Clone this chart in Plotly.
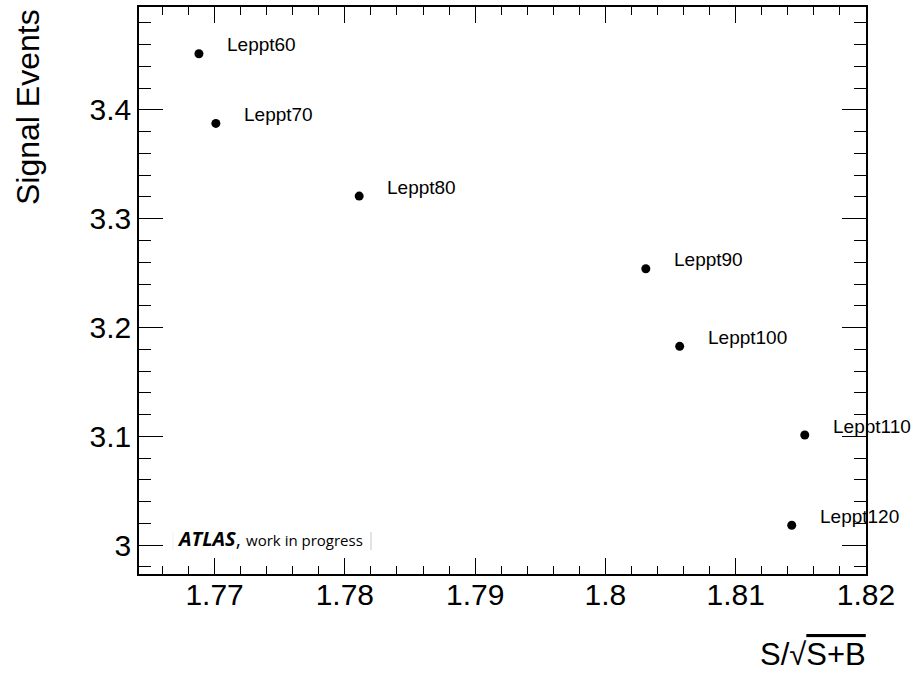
import plotly.graph_objects as go

labels = ["Leppt60", "Leppt70", "Leppt80", "Leppt90", "Leppt100", "Leppt110", "Leppt120"]
significance = [1.7688, 1.7701, 1.7811, 1.8031, 1.8057, 1.8153, 1.8143]
signal_events = [3.4516, 3.3876, 3.3208, 3.2540, 3.1827, 3.1012, 3.0183]

fig = go.Figure()
fig.add_trace(go.Scatter(
    x=significance, y=signal_events, mode="markers",
    marker=dict(color="black", size=9), showlegend=False, hoverinfo="skip"))

for lx, ly, t in zip(significance, signal_events, labels):
    fig.add_annotation(x=lx, y=ly, text=t, showarrow=False, xanchor="left", yanchor="middle",
                       xshift=26, yshift=9, font=dict(family="Liberation Sans", size=19, color="black"))

fig.add_annotation(xref="paper", yref="paper", x=(28 - 139) / 727, y=1.0, xanchor="center", yanchor="top",
                   text="Signal Events", textangle=-90, showarrow=False,
                   font=dict(family="Liberation Sans", size=32, color="black"))

fig.add_annotation(xref="paper", yref="paper", x=1.003, y=-(655 - 574) / 569, xanchor="right", yanchor="middle",
                   text="S/√<span style='text-decoration:overline'>S+B</span>", showarrow=False,
                   font=dict(family="Liberation Sans", size=31, color="black"))

fig.add_annotation(xref="paper", yref="paper", x=(175 - 139) / 727, y=(574 - 538) / 569, xanchor="left", yanchor="middle",
                   text="<b><i>ATLAS</i></b>, <span style='font-size:15px'>work in progress</span>", showarrow=False,
                   font=dict(family="Open Sans", size=20, color="black"))

# faint edges of the pasted label box
fig.add_shape(type="line", xref="paper", yref="paper", x0=(173 - 139) / 727, x1=(173 - 139) / 727,
              y0=(574 - 550) / 569, y1=(574 - 532) / 569, line=dict(color="#f0f0f0", width=1))
fig.add_shape(type="line", xref="paper", yref="paper", x0=(371 - 139) / 727, x1=(371 - 139) / 727,
              y0=(574 - 550) / 569, y1=(574 - 532) / 569, line=dict(color="#c8c8c8", width=1))

axis_common = dict(showgrid=False, zeroline=False, showline=True, linecolor="black", linewidth=1.5,
                   mirror="allticks", ticks="inside", tickcolor="black", tickwidth=1.2,
                   tickfont=dict(family="Liberation Sans", size=30, color="black"))

fig.update_xaxes(range=[1.7642, 1.82], dtick=0.01, tick0=1.77, ticklen=16, ticklabelstandoff=-7,
                 minor=dict(dtick=0.002, tick0=1.77, ticklen=8, ticks="inside", tickcolor="black", tickwidth=1.2),
                 **axis_common)
fig.update_yaxes(range=[2.9735, 3.4946], dtick=0.1, tick0=3.0, ticklen=24,
                 minor=dict(dtick=0.02, tick0=3.0, ticklen=12, ticks="inside", tickcolor="black", tickwidth=1.2),
                 **axis_common)

fig.update_layout(width=914, height=677, margin=dict(l=139, r=48, t=5, b=103),
                  paper_bgcolor="white", plot_bgcolor="white")

fig.write_html("out.html")
